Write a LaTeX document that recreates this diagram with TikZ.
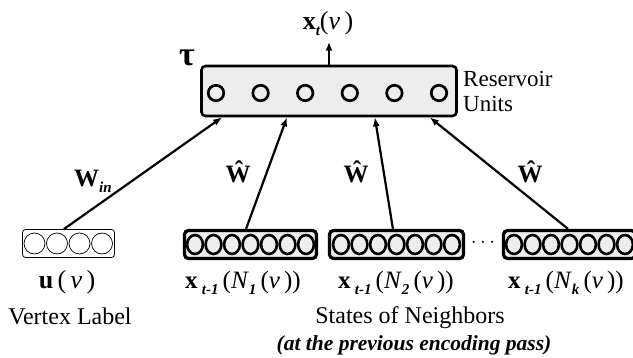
\documentclass[tikz,border=0pt]{standalone}
\usepackage{fontspec}
\setmainfont{Liberation Serif}
\usetikzlibrary{arrows.meta,calc,shapes.geometric}
\newcommand{\lsub}[1]{\raisebox{-0.55ex}{\fontsize{15}{15}\selectfont\bfseries\itshape #1}}
\newcommand{\bigf}{\fontsize{25}{27}\selectfont}
\begin{document}
\begin{tikzpicture}[x=1pt,y=-1pt,
  resbox/.style={draw,line width=2.6pt,rounded corners=4pt,fill=black!7,minimum width=255pt,minimum height=50pt,inner sep=0pt},
  rcirc/.style={circle,draw,line width=2.7pt,fill=black!7,minimum size=15.5pt,inner sep=0pt},
  nbox/.style={draw,line width=3.2pt,rounded corners=4pt,fill=black!7,minimum width=132pt,minimum height=28pt,inner sep=0pt},
  ncirc/.style={ellipse,draw,line width=2.6pt,fill=black!7,minimum width=15.8pt,minimum height=19pt,inner sep=0pt},
  ubox/.style={draw,line width=0.8pt,rounded corners=3pt,fill=white,minimum width=92pt,minimum height=28pt,inner sep=0pt},
  ucirc/.style={circle,draw,line width=0.7pt,fill=white,minimum size=21pt,inner sep=0pt},
  arr/.style={line width=2.2pt,-{Latex[length=9pt,width=7pt]}},
  lab/.style={font=\bigf,inner sep=0pt},
  wlab/.style={font=\fontsize{25}{27}\selectfont,inner sep=0pt}
]
\useasboundingbox (0,0) rectangle (633,357);

% reservoir
\node[resbox] (res) at (329,91) {};
\foreach \i in {0,...,5} {\node[rcirc] (rc\i) at (216+44.6*\i,93) {};}
\node[font=\fontsize{34}{34}\selectfont\bfseries,inner sep=0pt] (tau) at (187,58) {τ};
\node[font=\fontsize{23}{25}\selectfont,align=left,anchor=west,inner sep=0pt] (runits) at (463,91) {Reservoir\\Units};
\node[font=\fontsize{26}{28}\selectfont,inner sep=0pt,anchor=south] (xt) at (328,36) {\textbf{x}\lsub{t}(\textit{v}\,)};
\draw[arr] (res.north) -- ($(res.north)+(0,-23)$) coordinate (xtend);

% input box
\node[ubox] (u) at (68.5,243.5) {};
\foreach \i in {0,...,3} {\node[ucirc] (uc\i) at (34.5+22.5*\i,243.5) {};}

% neighbour boxes
\node[nbox] (n1) at (250.5,244.5) {};
\node[nbox,minimum width=134pt] (n2) at (396.5,244.5) {};
\node[nbox] (nk) at (569.5,244.5) {};
\foreach \b/\x in {n1/195,n2/341,nk/514} {
  \foreach \i in {0,...,6} {\node[ncirc] (\b c\i) at (\x+18.5*\i,244.5) {};}
}
\node[font=\fontsize{20}{20}\selectfont\bfseries,inner sep=0pt] (dots) at (483,243) {$\cdots$};

% connectors
\draw[arr] ($(u.north west)!0.45!(u.north east)$) -- ($(res.south west)!0.085!(res.south east)$);
\draw[arr] ($(n1.north west)!0.467!(n1.north east)$) -- ($(res.south west)!0.337!(res.south east)$);
\draw[arr] ($(n2.north west)!0.474!(n2.north east)$) -- ($(res.south west)!0.678!(res.south east)$);
\draw[arr] ($(nk.north west)!0.489!(nk.north east)$) -- ($(res.south west)!0.891!(res.south east)$);

% weight labels
\node[wlab] (win) at (93,181) {\textbf{W}\lsub{in}};
\node[wlab] (w1) at (238,172) {\textbf{Ŵ}};
\node[wlab] (w2) at (356,172) {\textbf{Ŵ}};
\node[wlab] (w3) at (530,172) {\textbf{Ŵ}};

% labels under boxes
\node[font=\fontsize{26}{28}\selectfont,inner sep=0pt,anchor=base] (ulab) at (67,288) {\textbf{u}\,(\,\textit{v}\,)};
\node[lab,anchor=base] (l1) at (243,288) {\textbf{x}\,\lsub{t-1}\,(\textit{N}\lsub{1}\,(\textit{v}\,))};
\node[lab,anchor=base] (l2) at (396,288) {\textbf{x}\,\lsub{t-1}\,(\textit{N}\lsub{2}\,(\textit{v}\,))};
\node[lab,anchor=base] (lk) at (566,288) {\textbf{x}\,\lsub{t-1}\,(\textit{N}\lsub{k}\,(\textit{v}\,))};

\node[font=\fontsize{24}{26}\selectfont,inner sep=0pt,anchor=base] (vl) at (70,324) {Vertex Label};
\node[font=\fontsize{24}{26}\selectfont,inner sep=0pt,anchor=base] (sn) at (410,323) {States of Neighbors};
\node[font=\fontsize{21.5}{22}\selectfont\bfseries\itshape,inner sep=0pt,anchor=base] (prev) at (414,350) {(at the previous encoding pass)};
\end{tikzpicture}
\end{document}
